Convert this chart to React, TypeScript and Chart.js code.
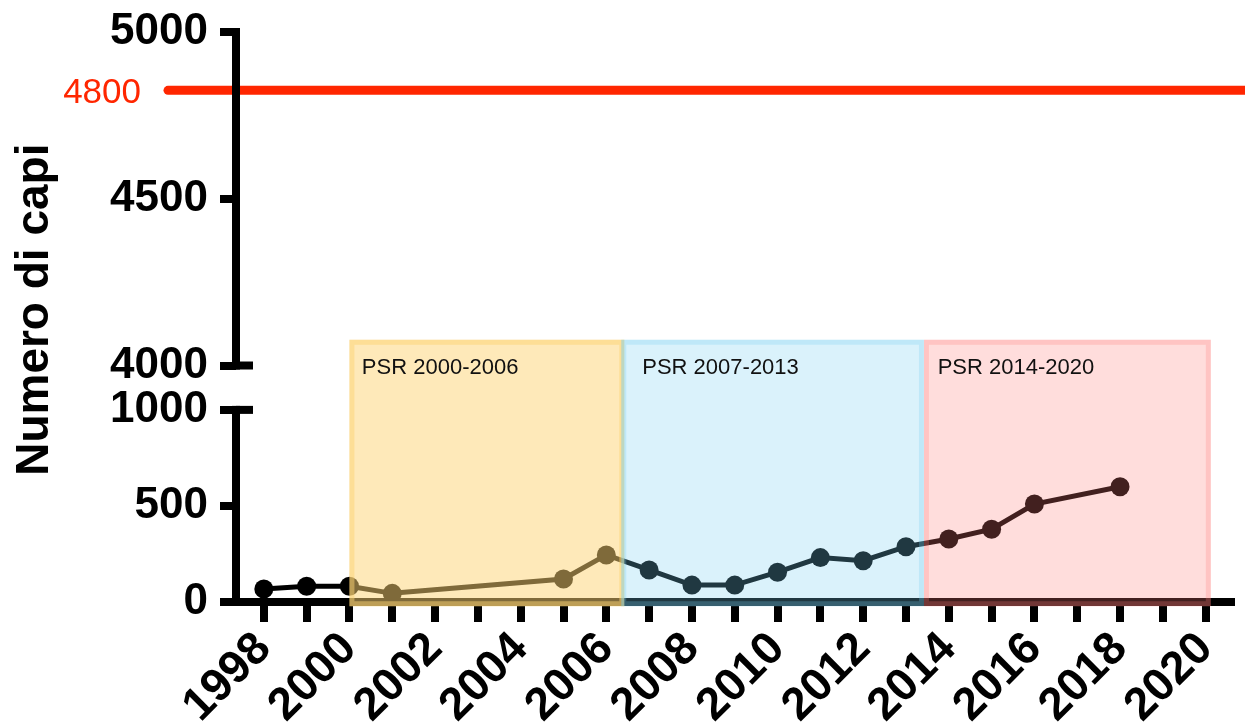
import React, { useEffect, useRef } from 'react';
import { Chart, registerables } from 'chart.js';

Chart.register(...registerables);

const FONT = "'Liberation Sans', Arial, Helvetica, sans-serif";

// Data
const YEARS = [1998, 1999, 2000, 2001, 2005, 2006, 2007, 2008, 2009, 2010, 2011, 2012, 2013, 2014, 2015, 2016, 2018];
const CAPI = [68, 82, 82, 45, 120, 245, 167, 88, 88, 155, 231, 215, 288, 328, 379, 510, 600];

const X_TICK_YEARS = [1998, 1999, 2000, 2001, 2002, 2003, 2004, 2005, 2006, 2007, 2008, 2009, 2010, 2011, 2012, 2013, 2014, 2015, 2016, 2017, 2018, 2019, 2020];
const Y_TICK_VALUES = [0, 500, 1000, 4000, 4500, 5000];
const Y_TITLE = 'Numero di capi';

const REF_VALUE = 4825;
const REF_LABEL = '4800';

const PERIOD_LABELS = ['PSR 2000-2006', 'PSR 2007-2013', 'PSR 2014-2020'];
const PERIOD_START = [2000.0, 2006.35, 2013.42];
const PERIOD_END = [2006.42, 2013.42, 2020.12];
const PERIOD_LABEL_X = [2000.29, 2006.84, 2013.74];
const PERIOD_FILL = ['rgba(254,212,116,0.5)', 'rgba(117,207,241,0.27)', 'rgba(254,123,119,0.26)'];

// Broken y axis: lower segment 0..1000, upper segment 4000..5000
const LOWER_MAX = 1000;
const UPPER_MIN = 4000;
const UPPER_MAX = 5000;
const GAP = 231;
const UPPER_SCALE = 1.736;
const toAxis = (v: number) => (v <= LOWER_MAX ? v : LOWER_MAX + GAP + (v - UPPER_MIN) * UPPER_SCALE);

const BOX_TOP = 1365; // axis units (inside break gap)
const BOX_BOTTOM = -22;
const LABEL_BASE = 1187;

const decor = {
  id: 'decor',
  beforeDatasetsDraw(chart: any) {
    const { ctx, chartArea, scales } = chart;
    const y = scales.y;
    const yy = y.getPixelForValue(toAxis(REF_VALUE));
    ctx.save();
    ctx.strokeStyle = 'rgb(255,38,0)';
    ctx.lineWidth = 9;
    ctx.lineCap = 'round';
    ctx.beginPath();
    ctx.moveTo(chartArea.left - 68, yy);
    ctx.lineTo(chart.width + 20, yy);
    ctx.stroke();
    ctx.fillStyle = 'rgb(255,38,0)';
    ctx.font = `35px ${FONT}`;
    ctx.textAlign = 'right';
    ctx.textBaseline = 'alphabetic';
    ctx.fillText(REF_LABEL, chartArea.left - 95, yy + 12.5);

    // y axis title
    ctx.fillStyle = '#000';
    ctx.font = `bold 46px ${FONT}`;
    ctx.textAlign = 'center';
    ctx.textBaseline = 'middle';
    ctx.translate(chartArea.left - 201, (y.getPixelForValue(toAxis(UPPER_MIN)) + y.getPixelForValue(LOWER_MAX)) / 2 - 78);
    ctx.rotate(-Math.PI / 2);
    ctx.fillText(Y_TITLE, 0, 0);
    ctx.restore();
  },
  afterDatasetsDraw(chart: any) {
    const { ctx, chartArea, scales } = chart;
    const x = scales.x;
    const y = scales.y;
    const L = chartArea.left;
    ctx.save();
    ctx.fillStyle = '#000';
    const seg = (v0: number, v1: number) => {
      const p0 = y.getPixelForValue(v0);
      const p1 = y.getPixelForValue(v1);
      ctx.fillRect(L - 4, p1 - 4, 8, p0 - p1 + 8);
    };
    seg(0, LOWER_MAX);
    seg(toAxis(UPPER_MIN), toAxis(UPPER_MAX));
    [LOWER_MAX, toAxis(UPPER_MIN)].forEach((v) => {
      const p = y.getPixelForValue(v);
      ctx.fillRect(L, p - 4, 17, 8);
    });

    const top = y.getPixelForValue(BOX_TOP);
    const bottom = y.getPixelForValue(BOX_BOTTOM);
    PERIOD_LABELS.forEach((lab, i) => {
      const x0 = x.getPixelForValue(PERIOD_START[i]);
      const x1 = x.getPixelForValue(PERIOD_END[i]);
      ctx.fillStyle = PERIOD_FILL[i];
      ctx.fillRect(x0, top, x1 - x0, bottom - top);
      ctx.strokeStyle = PERIOD_FILL[i];
      ctx.lineWidth = 5;
      ctx.strokeRect(x0 + 2.5, top + 2.5, x1 - x0 - 5, bottom - top - 5);
    });
    ctx.fillStyle = '#111';
    ctx.font = `22px ${FONT}`;
    ctx.textAlign = 'left';
    ctx.textBaseline = 'alphabetic';
    PERIOD_LABELS.forEach((lab, i) => {
      ctx.fillText(lab, x.getPixelForValue(PERIOD_LABEL_X[i]), y.getPixelForValue(LABEL_BASE));
    });
    ctx.restore();
  },
};

export default function App() {
  const ref = useRef<HTMLCanvasElement | null>(null);

  useEffect(() => {
    document.body.style.margin = '0';
    const canvas = ref.current;
    if (!canvas) return;
    const chart = new Chart(canvas, {
      type: 'line',
      data: {
        datasets: [
          {
            data: YEARS.map((yr, i) => ({ x: yr, y: toAxis(CAPI[i]) })),
            borderColor: '#000',
            backgroundColor: '#000',
            borderWidth: 5,
            pointRadius: 9.5,
            pointBorderWidth: 0,
            pointBackgroundColor: '#000',
            tension: 0,
            clip: false,
          } as any,
        ],
      },
      options: {
        responsive: true,
        maintainAspectRatio: false,
        animation: false,
        layout: { padding: { top: 32, right: 12, left: 0, bottom: 0 } },
        plugins: { legend: { display: false }, tooltip: { enabled: false } },
        scales: {
          x: {
            type: 'linear',
            min: 1997.35,
            max: 2020.6,
            afterBuildTicks: (s: any) => {
              s.ticks = X_TICK_YEARS.map((v) => ({ value: v }));
            },
            afterFit: (s: any) => {
              s.height = 124;
            },
            ticks: {
              autoSkip: false,
              minRotation: 45,
              maxRotation: 45,
              padding: 0,
              color: '#000',
              font: { family: FONT, size: 46, weight: 'bold' },
              callback: (v: any) => (Number(v) % 2 === 0 ? String(v) : ''),
            },
            grid: {
              drawOnChartArea: false,
              drawTicks: true,
              tickLength: 20,
              tickWidth: 8,
              tickColor: '#000',
              color: '#000',
              lineWidth: 8,
            },
            border: { display: true, color: '#000', width: 8 },
          },
          y: {
            type: 'linear',
            min: 0,
            max: toAxis(UPPER_MAX),
            afterBuildTicks: (s: any) => {
              s.ticks = Y_TICK_VALUES.map((v) => ({ value: toAxis(v) }));
            },
            afterFit: (s: any) => {
              s.width = 236;
              s.paddingTop = 0;
              s.paddingBottom = 0;
            },
            ticks: {
              padding: 12,
              color: '#000',
              font: { family: FONT, size: 44, weight: 'bold' },
              callback: (_v: any, i: number) => String(Y_TICK_VALUES[i]),
            },
            grid: {
              drawOnChartArea: false,
              drawTicks: true,
              tickLength: 16,
              tickWidth: 8,
              tickColor: '#000',
              color: '#000',
              lineWidth: 8,
            },
            border: { display: false },
          },
        },
      } as any,
      plugins: [decor],
    });
    return () => chart.destroy();
  }, []);

  return (
    <div style={{ position: 'fixed', left: 0, top: 0, width: 1245, height: 726 }}>
      <canvas ref={ref} />
    </div>
  );
}
